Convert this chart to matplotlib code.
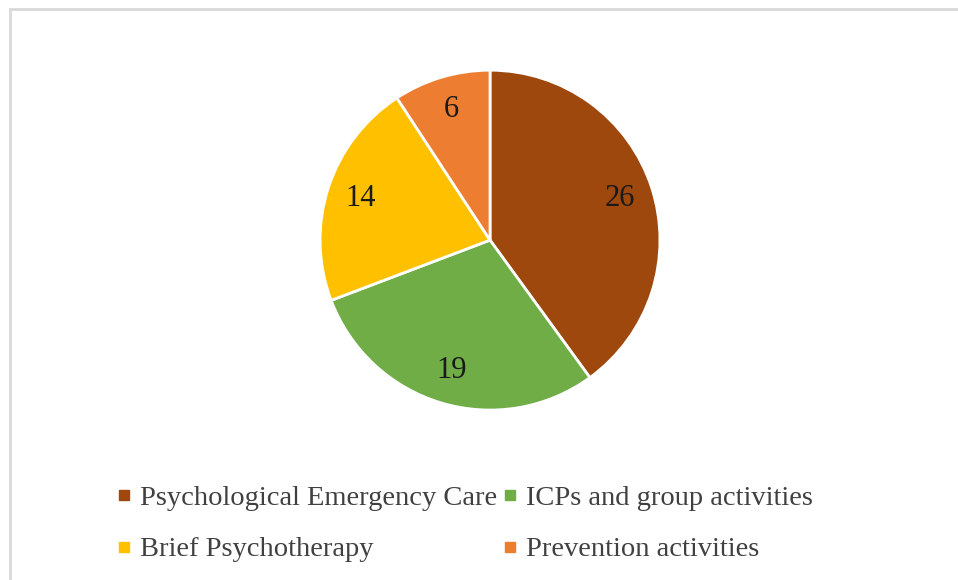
import matplotlib
matplotlib.use("Agg")
import matplotlib.pyplot as plt
from matplotlib.patches import Rectangle
from matplotlib.lines import Line2D

categories = ["Psychological Emergency Care", "ICPs and group activities",
              "Brief Psychotherapy", "Prevention activities"]
values = [26, 19, 14, 6]
colors = ["#9E480E", "#70AD47", "#FFC000", "#ED7D31"]

plt.rcParams["font.family"] = ["Liberation Serif", "DejaVu Serif"]

fig = plt.figure(figsize=(9.58, 5.8), dpi=100)

# light frame (only top/left visible in the reference crop)
fig.patches.append(Rectangle((10 / 958, -0.1), 1.2, 1 - 9 / 580 + 0.1,
                             transform=fig.transFigure, fill=False,
                             edgecolor="#d9d9d9", linewidth=2))

ax = fig.add_axes([0.334, 0.293, 0.355, 0.586])
wedges, texts = ax.pie(values, colors=colors, startangle=90, counterclock=False,
                       labels=[str(v) for v in values], labeldistance=0.8,
                       wedgeprops=dict(edgecolor="white", linewidth=2),
                       textprops=dict(fontsize=22, color="#1a1a1a",
                                      ha="center", va="center"))
ax.set_xlim(-1, 1)
ax.set_ylim(-1, 1)
ax.set_aspect("equal")

order = [0, 2, 1, 3]
handles = [Line2D([], [], marker="s", linestyle="none", markersize=6.5,
                  color=colors[i]) for i in order]
fig.legend(handles, [categories[i] for i in order], ncol=2,
           loc="center left", bbox_to_anchor=(0.106, 0.097),
           frameon=False, fontsize=20.5, handlelength=0.6, handletextpad=0.25,
           columnspacing=0.15, labelspacing=0.9, borderpad=0,
           labelcolor="#404040")

fig.savefig("out.png", dpi=100)
